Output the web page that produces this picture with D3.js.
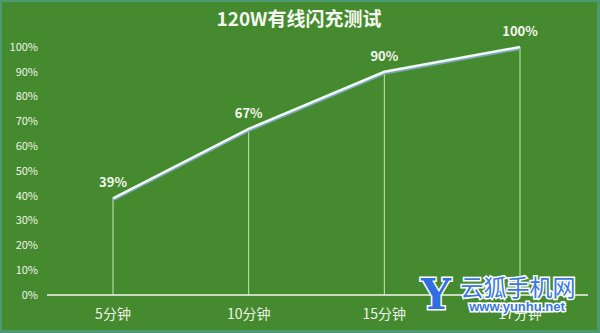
<!DOCTYPE html>
<html>
<head>
<meta charset="utf-8" />
<title>120W有线闪充测试</title>
<style>
body { margin: 0; background: #458a2f; }
svg { display: block; }
svg text { font-family: "Noto Sans CJK SC", "Liberation Sans", sans-serif; }
</style>
<script src="https://cdn.jsdelivr.net/npm/d3@7/dist/d3.min.js"></script>
</head>
<body>
<svg class="chart"></svg>
<script>

// data
var categories = ["5分钟", "10分钟", "15分钟", "17分钟"];
var values = [39, 67, 90, 100];
var y_ticks = [0, 10, 20, 30, 40, 50, 60, 70, 80, 90, 100];
var title = "120W有线闪充测试";

var width = 600;
var height = 333;

var svg = d3.select(".chart")
    .attr("width", width)
    .attr("height", height);

// background + thin teal frame
svg.append("rect")
    .attr("x", 0).attr("y", 0)
    .attr("width", width).attr("height", height)
    .attr("fill", "#4b9a72");
svg.append("rect")
    .attr("x", 2).attr("y", 2)
    .attr("width", width - 5).attr("height", height - 5)
    .attr("fill", "#458a2f");

var x = d3.scalePoint()
    .domain(categories)
    .range([113, 520]);

var y = d3.scaleLinear()
    .domain([0, 100])
    .range([295, 47]);

var data = categories.map(function(c, i) { return { cat: c, v: values[i] }; });

// title
svg.append("text")
    .text(title)
    .attr("x", 299)
    .attr("y", 26)
    .attr("fill", "#f4f8f0")
    .style("font-size", "19px")
    .style("font-weight", "bold")
    .style("text-anchor", "middle");

// y axis labels
svg.append("g").selectAll("text")
    .data(y_ticks)
    .enter().append("text")
    .attr("x", 38)
    .attr("y", function(d) { return y(d); })
    .attr("dy", "0.35em")
    .attr("fill", "#eef5e6")
    .style("font-size", "11px")
    .style("text-anchor", "end")
    .text(function(d) { return d + "%"; });

// drop lines
svg.append("g").selectAll("line")
    .data(data)
    .enter().append("line")
    .attr("x1", function(d) { return x(d.cat); })
    .attr("x2", function(d) { return x(d.cat); })
    .attr("y1", function(d) { return y(d.v); })
    .attr("y2", y(0))
    .attr("stroke", "#c8e8b4")
    .attr("stroke-width", 1);

// baseline
svg.append("line")
    .attr("x1", 47).attr("x2", 588)
    .attr("y1", y(0)).attr("y2", y(0))
    .attr("stroke", "#f0f6ea")
    .attr("stroke-width", 1.5);

// x labels
svg.append("g").selectAll("text")
    .data(categories)
    .enter().append("text")
    .attr("x", function(d) { return x(d); })
    .attr("y", 314)
    .attr("dy", "0.35em")
    .attr("fill", "#eef5e6")
    .style("font-size", "14px")
    .style("text-anchor", "middle")
    .text(function(d) { return d; });

// line with a soft shadow
var line = d3.line()
    .x(function(d) { return x(d.cat); })
    .y(function(d) { return y(d.v); });

svg.append("path")
    .datum(data)
    .attr("d", line)
    .attr("transform", "translate(0,1.5)")
    .attr("fill", "none")
    .attr("stroke", "#7fa6b8")
    .attr("stroke-width", 3);

svg.append("path")
    .datum(data)
    .attr("d", line)
    .attr("fill", "none")
    .attr("stroke", "#eef8f6")
    .attr("stroke-width", 2.5);

// value labels
svg.append("g").selectAll("text")
    .data(data)
    .enter().append("text")
    .attr("x", function(d) { return x(d.cat); })
    .attr("y", function(d) { return y(d.v) - 11; })
    .attr("fill", "#f4f8f0")
    .style("font-size", "13px")
    .style("font-weight", "bold")
    .style("text-anchor", "middle")
    .text(function(d) { return d.v + "%"; });

// watermark
var wm = svg.append("g");
wm.append("text")
    .text("Y")
    .attr("x", 436).attr("y", 309)
    .attr("fill", "#2f6fe0")
    .attr("stroke", "#ffffff")
    .attr("stroke-width", 3)
    .style("paint-order", "stroke")
    .style("font-family", "'DejaVu Serif', serif")
    .style("font-size", "42px")
    .style("font-weight", "bold")
    .style("text-anchor", "middle");
wm.append("text")
    .text("云狐手机网")
    .attr("x", 518).attr("y", 296)
    .attr("fill", "#3a78e0")
    .attr("stroke", "#ffffff")
    .attr("stroke-width", 3)
    .style("paint-order", "stroke")
    .style("font-size", "23px")
    .style("text-anchor", "middle");
wm.append("text")
    .text("www.yunhu.net")
    .attr("x", 517).attr("y", 311)
    .attr("fill", "#3a78e0")
    .attr("stroke", "#ffffff")
    .attr("stroke-width", 3)
    .style("paint-order", "stroke")
    .style("font-family", "'Liberation Sans', sans-serif")
    .style("font-size", "13px")
    .style("font-weight", "bold")
    .style("text-anchor", "middle");

</script>
</body>
</html>
